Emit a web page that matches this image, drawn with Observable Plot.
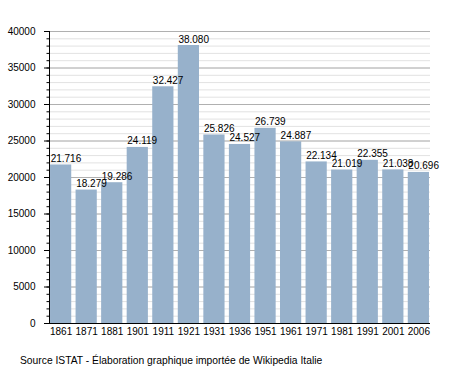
<!DOCTYPE html>
<html>
<head>
<meta charset="utf-8">
<script src="https://cdn.jsdelivr.net/npm/d3@7"></script>
<script src="https://cdn.jsdelivr.net/npm/@observablehq/plot@0.6"></script>
<style>
  body { margin: 0; background: #fff; }
  #wrap { position: relative; width: 458px; height: 373px; }
  #caption { position: absolute; left: 20px; top: 355px; font-family: "Liberation Sans", Arial, sans-serif; font-size: 10.3px; color: #000; white-space: nowrap; }
</style>
</head>
<body>
<div id="wrap">
  <div id="chart"></div>
  <div id="caption">Source ISTAT - Élaboration graphique importée de Wikipedia Italie</div>
</div>
<script>
const years = ["1861","1871","1881","1901","1911","1921","1931","1936","1951","1961","1971","1981","1991","2001","2006"];
const population = [21716,18279,19286,24119,32427,38080,25826,24527,26739,24887,22134,21019,22355,21038,20696];
const majorTicks = [0,5000,10000,15000,20000,25000,30000,35000,40000];
const minorTicks = d3.range(0, 40001, 1000);

const data = years.map((y, i) => ({year: y, pop: population[i]}));
const fmt = d3.formatLocale({decimal: ",", thousands: ".", grouping: [3], currency: ["", "€"]}).format(",d");

const chart = Plot.plot({
  width: 458,
  height: 345,
  marginLeft: 49,
  marginRight: 28,
  marginTop: 31,
  marginBottom: 22,
  style: {fontFamily: "'Liberation Sans', Arial, sans-serif", fontSize: "10px", color: "#000", background: "#fff"},
  x: {domain: years, paddingInner: 0.17, paddingOuter: 0.04, round: false, label: null},
  y: {domain: [0, 40000], label: null},
  marks: [
    Plot.ruleY(minorTicks, {stroke: "#e2e2e2", strokeWidth: 1}),
    Plot.ruleY(majorTicks, {stroke: "#b0b0b0", strokeWidth: 1}),
    Plot.barY(data, {x: "year", y: "pop", fill: "#97b1cb"}),
    Plot.text(data, {x: "year", y: "pop", text: d => fmt(d.pop), textAnchor: "start", lineAnchor: "bottom", dx: -10.5, dy: -3, fill: "#000", fontSize: 10}),
    Plot.axisY({ticks: minorTicks, tickSize: 2.5, tickFormat: () => "", label: null, stroke: "#000"}),
    Plot.axisY({ticks: majorTicks, tickSize: 5, tickPadding: 9, tickFormat: d => String(d), label: null, stroke: "#000", fontSize: 10}),
    Plot.axisX({tickSize: 0, tickPadding: 4, label: null, fontSize: 10}),
    Plot.frame({anchor: "left", stroke: "#000"}),
    Plot.ruleY([0], {stroke: "#000"})
  ]
});
document.getElementById("chart").appendChild(chart);
</script>
</body>
</html>
